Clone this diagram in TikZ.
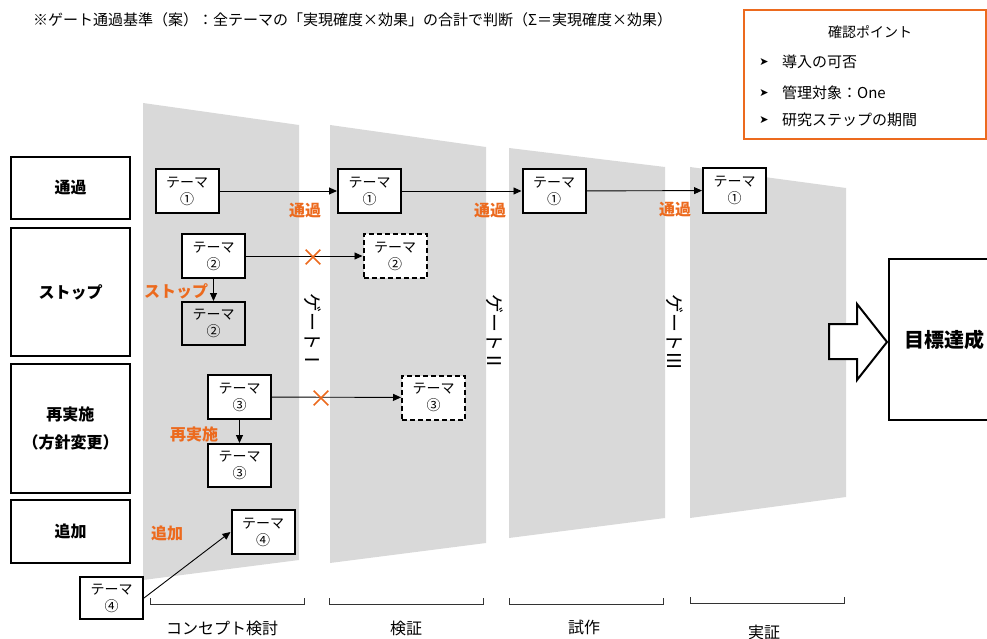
\documentclass[tikz,border=0pt]{standalone}
\usepackage{fontspec}
\setmainfont{Noto Sans CJK JP}
\newfontfamily\symfont{DejaVu Sans}
\usetikzlibrary{arrows.meta,shapes.misc}
\definecolor{org}{RGB}{236,106,30}
\definecolor{gr}{RGB}{217,217,217}
\tikzset{
  cat/.style={draw, line width=2pt, fill=white, minimum width=119pt, inner sep=0pt, align=center, font=\fontsize{16}{28}\selectfont\bfseries},
  theme/.style={draw, line width=2pt, fill=white, minimum width=63pt, minimum height=44pt, inner sep=0pt, align=center, font=\fontsize{14}{17}\selectfont},
  ghost/.style={theme, dash pattern=on 5pt off 3pt},
  olab/.style={text=org, inner sep=0pt, font=\fontsize{16}{18}\selectfont\bfseries},
  arr/.style={-{Triangle[length=8pt,width=7pt]}, line width=0.9pt},
  gatelab/.style={rotate=-90, inner sep=0pt, font=\fontsize{19}{20}\selectfont},
  phase/.style={inner sep=0pt, font=\fontsize{16}{18}\selectfont},
  xmark/.style={cross out, draw=org, line width=1.6pt, minimum size=13pt, inner sep=0pt},
  brk/.style={line width=1pt, draw=black!80},
  bul/.style={inner sep=0pt, anchor=west, font=\fontsize{15}{18}\selectfont},
  bmark/.style={inner sep=0pt, font=\symfont\fontsize{11}{14}\selectfont}
}
\begin{document}
\begin{tikzpicture}[x=1pt,y=-1pt]
\useasboundingbox (0,0) rectangle (987,639);
\clip (0,0) rectangle (987,639);
% gray trapezoids
\fill[gr] (143,103) -- (299,125) -- (299,560) -- (143,580) -- cycle;
\fill[gr] (330,125) -- (486,147) -- (486,543) -- (330,563) -- cycle;
\fill[gr] (509,148) -- (665,167) -- (665,518) -- (509,538) -- cycle;
\fill[gr] (690,167) -- (846,188) -- (846,497) -- (690,518) -- cycle;

% top note
\node[anchor=west, inner sep=0pt, font=\fontsize{15}{18}\selectfont] (note) at (33,20) {※ゲート通過基準（案）：全テーマの「実現確度×効果」の合計で判断（Σ＝実現確度×効果）};

% confirm box
\node[draw=org, line width=2pt, minimum width=242pt, minimum height=129pt, anchor=north west, inner sep=0pt] (check) at (743,9) {};
\node[inner sep=0pt, font=\fontsize{14}{17}\selectfont] (ctitle) at (870,32) {確認ポイント};
\node[bmark] (b1) at (764,62) {➤};
\node[bmark] (b2) at (764,93) {➤};
\node[bmark] (b3) at (764,120) {➤};
\node[bul] (c1) at (782,62) {導入の可否};
\node[bul] (c2) at (782,93) {管理対象：One};
\node[bul] (c3) at (782,120) {研究ステップの期間};

% category boxes
\node[cat, minimum height=62pt] (k1) at (70.5,188) {通過};
\node[cat, minimum height=128pt] (k2) at (70.5,292) {ストップ};
\node[cat, minimum height=129pt] (k3) at (70.5,428.5) {再実施\\（方針変更）};
\node[cat, minimum height=63pt] (k4) at (70.5,531.5) {追加};

% theme boxes
\node[theme] (t1a) at (187,191) {テーマ\\①};
\node[theme] (t1b) at (369.5,191) {テーマ\\①};
\node[theme] (t1c) at (554,191) {テーマ\\①};
\node[theme] (t1d) at (734.5,190.5) {テーマ\\①};
\node[theme] (t2a) at (213.5,256) {テーマ\\②};
\node[theme, fill=gr, minimum height=43pt] (t2s) at (213.5,323.5) {テーマ\\②};
\node[ghost] (t2d) at (395,256) {テーマ\\②};
\node[theme] (t3a) at (239.5,397) {テーマ\\③};
\node[theme, minimum height=43pt] (t3b) at (239.5,465.5) {テーマ\\③};
\node[ghost] (t3d) at (433.5,397.5) {テーマ\\③};
\node[theme] (t4a) at (263,532) {テーマ\\④};
\node[theme, minimum height=42pt] (t4b) at (111.5,598) {テーマ\\④};

% connectors
\draw[arr] (t1a) -- (t1b);
\draw[arr] (t1b) -- (t1c);
\draw[arr] (t1c) -- (t1d);
\draw[arr] (t2a) -- (t2d);
\draw[arr] (t2a) -- (t2s);
\draw[arr] (t3a) -- (t3d);
\draw[arr] (t3a) -- (t3b);
\draw[arr] (t4b.east) -- (t4a.west);

% cross marks
\node[xmark] (x1) at (313,257) {};
\node[xmark] (x2) at (321,398) {};

% orange labels
\node[olab] (p1) at (305,211) {通過};
\node[olab] (p2) at (490,211) {通過};
\node[olab] (p3) at (675,210) {通過};
\node[olab] (s1) at (176,291) {ストップ};
\node[olab] (r1) at (194,434) {再実施};
\node[olab] (a1) at (167,533) {追加};

% gate labels
\node[gatelab] (g1) at (313,331) {ゲートⅠ};
\node[gatelab] (g2) at (495,332) {ゲートⅡ};
\node[gatelab] (g3) at (675,332) {ゲートⅢ};

% brackets
\draw[brk] (150,598) -- (150,604) -- (304,604) -- (304,598);
\draw[brk] (329,598) -- (329,604) -- (483,604) -- (483,598);
\draw[brk] (509,598) -- (509,604) -- (663,604) -- (663,598);
\draw[brk] (690,597) -- (690,603) -- (844,603) -- (844,597);
\node[phase] (ph1) at (222,628) {コンセプト検討};
\node[phase] (ph2) at (406,628) {検証};
\node[phase] (ph3) at (584,627) {試作};
\node[phase] (ph4) at (764,632) {実証};

% goal
\draw[line width=2pt, fill=white, line join=miter] (829,324) -- (857,324) -- (857,304) -- (887,342) -- (857,380) -- (857,359) -- (829,359) -- cycle;
\node[draw, line width=2pt, fill=white, anchor=west, minimum width=130pt, minimum height=161pt, inner sep=0pt] (goal) at (888,339.5) {};
\node[inner sep=0pt, font=\fontsize{20}{24}\selectfont\bfseries] (goaltxt) at (944,340) {目標達成};
\end{tikzpicture}
\end{document}
